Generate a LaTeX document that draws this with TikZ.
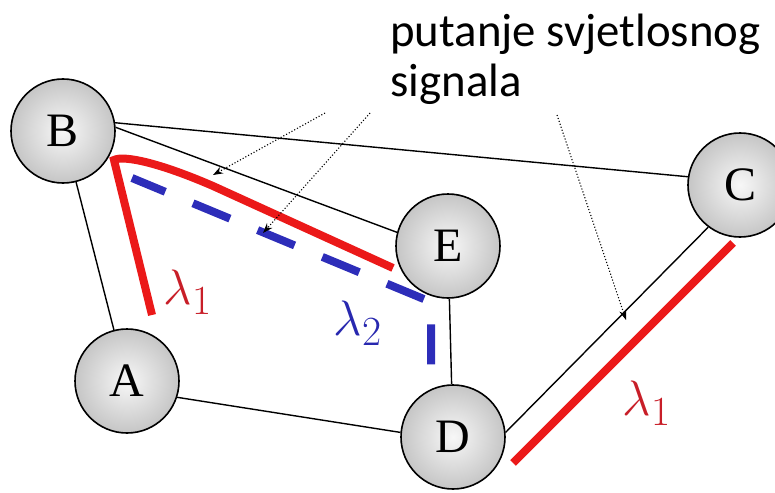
\documentclass[tikz,border=0pt]{standalone}
\usepackage{fontspec}
\setmainfont{Liberation Serif}
\newfontfamily\calibri{Carlito}
\usetikzlibrary{arrows.meta}

\definecolor{pathred}{RGB}{235,25,25}
\definecolor{pathblue}{RGB}{45,45,185}
\definecolor{labelred}{RGB}{200,30,40}
\definecolor{labelblue}{RGB}{40,40,175}

\begin{document}
\begin{tikzpicture}[x=0.5pt,y=-0.5pt,>={Stealth[length=5pt,width=3.6pt]},
  station/.style={draw, circle, line width=0.8pt, minimum size=52pt, inner sep=0pt,
    shading=radial, inner color=gray!6, outer color=gray!45,
    font=\fontsize{24}{26}\selectfont},
  link/.style={line width=0.7pt},
  pointer/.style={->, densely dotted, line width=0.55pt},
  lightpath/.style={line width=4pt},
  wavelabel/.style={font=\fontsize{24.88}{28}\selectfont}]
\useasboundingbox (0,0) rectangle (775,492);

% network nodes
\node[station] (B) at (63,131) {B};
\node[station] (A) at (127,381) {A};
\node[station] (E) at (448,246) {E};
\node[station] (D) at (453,437) {D};
\node[station] (C) at (740,185) {C};

% fibre links
\draw[link] (B) -- (A);
\draw[link] (B.9) -- (C.171);
\draw[link] (B.4) -- (E.165);
\draw[link] (A.-18) -- (D.175);
\draw[link] (E) -- (D);
\draw[link] (D.5) -- (C.-127);

% light paths
\draw[lightpath, pathred] (152,315) -- (114,160) .. controls (124,155) and (160,163) .. (213,186) -- (393,268);
\draw[lightpath, pathblue, dash pattern=on 20pt off 15pt, dash phase=2pt] (132,178) -- (431,302) -- (431,382);
\draw[lightpath, pathred] (733,243) -- (513,463);

\node[wavelabel, text=labelred] (lamA) at (188,292) {$\lambda_1$};
\node[wavelabel, text=labelblue] (lamB) at (358,323) {$\lambda_2$};
\node[wavelabel, text=labelred] (lamC) at (647,403) {$\lambda_1$};

% caption with pointers
\node[anchor=base west, inner sep=0pt, font=\calibri\fontsize{23.4}{25}\selectfont] (note) at (390,47) {putanje svjetlosnog};
\node[anchor=base west, inner sep=0pt, font=\calibri\fontsize{23.4}{25}\selectfont] (note2) at (390,97) {signala};

\coordinate (from1) at (325,113);
\coordinate (from2) at (370,113);
\coordinate (from3) at (557,115);
\coordinate (tip1) at (213,175);
\coordinate (tip2) at (263,233);
\coordinate (tip3) at (626,320);
\draw[pointer] (from1) -- (tip1);
\draw[pointer] (from2) -- (tip2);
\draw[pointer] (from3) -- (tip3);
\end{tikzpicture}
\end{document}
